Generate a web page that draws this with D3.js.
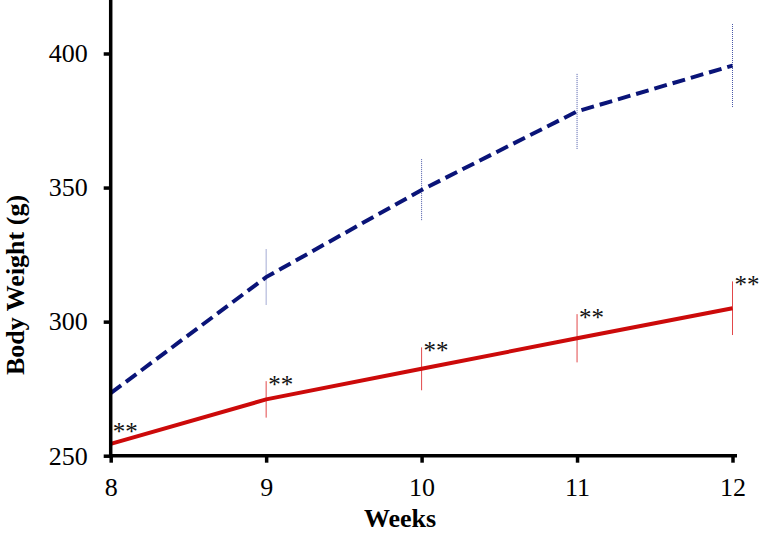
<!DOCTYPE html>
<html><head><meta charset="utf-8">
<script src="https://cdn.jsdelivr.net/npm/d3@7"></script>
<style>body{margin:0;background:#fff}svg{display:block}</style>
</head><body>
<script>
const weeks = [8, 9, 10, 11, 12];
const controlMean = [273.3, 316.6, 349.1, 378.4, 395.5];
const controlErr  = [8, 10.3, 11.5, 14, 15.5];
const treatedMean = [254.4, 271, 282.4, 293.8, 305];
const treatedErr  = [6, 6.8, 8, 9, 10];
const yTicks = [250, 300, 350, 400];
const xLabel = "Weeks";
const yLabel = "Body Weight (g)";
const sigMark = "**";

const W = 760, H = 535;
const svg = d3.select("body").append("svg").attr("width", W).attr("height", H);
const x = d3.scaleLinear().domain([8, 12]).range([110.7, 732.5]);
const y = d3.scaleLinear().domain([250, 400]).range([455.7, 53.5]);
const font = "'Liberation Serif', 'Times New Roman', serif";

// error bars
function errBars(mean, err, color, dash) {
  svg.append("g").selectAll("line").data(weeks).join("line")
    .attr("x1", (d) => x(d)).attr("x2", (d) => x(d))
    .attr("y1", (d, i) => y(mean[i] + err[i]))
    .attr("y2", (d, i) => y(mean[i] - err[i]))
    .attr("stroke", color).attr("stroke-width", 1)
    .attr("stroke-dasharray", dash);
}
errBars(controlMean, controlErr, "#4a58a8", "1,1");
errBars(treatedMean, treatedErr, "#e2484a", null);

const line = d3.line().x((d) => x(d[0])).y((d) => y(d[1]));
svg.append("path").datum(weeks.map((w, i) => [w, controlMean[i]]))
  .attr("d", line).attr("fill", "none").attr("stroke", "#0a1478")
  .attr("stroke-width", 4).attr("stroke-dasharray", "13,6");
svg.append("path").datum(weeks.map((w, i) => [w, treatedMean[i]]))
  .attr("d", line).attr("fill", "none").attr("stroke", "#cc0a0a")
  .attr("stroke-width", 4);

// significance marks
svg.append("g").selectAll("text").data(weeks).join("text")
  .attr("x", (d) => x(d) + 2)
  .attr("y", (d, i) => y(treatedMean[i] + treatedErr[i]) + 12)
  .attr("font-family", font).attr("font-size", 25).attr("fill", "#111")
  .text(sigMark);

// axes
const xAxis = svg.append("g").attr("transform", `translate(0,${y(250)})`)
  .call(d3.axisBottom(x).tickValues(weeks).tickFormat(d3.format("d")).tickSize(7).tickSizeOuter(0));
const yAxis = svg.append("g").attr("transform", `translate(${x(8)},0)`)
  .call(d3.axisLeft(y).tickValues(yTicks).tickSize(7).tickSizeOuter(0));
xAxis.select(".domain").attr("d", `M${x(8)-1.5},0H737`);
yAxis.select(".domain").attr("d", `M0,0V${y(250)+1.5}`);
[xAxis, yAxis].forEach((a) => {
  a.select(".domain").attr("stroke", "#000").attr("stroke-width", 3.5);
  a.selectAll(".tick line").attr("stroke", "#000").attr("stroke-width", 3.5);
  a.selectAll(".tick text").attr("font-family", font).attr("font-size", 26).attr("fill", "#000");
});
xAxis.selectAll(".tick text").attr("dy", "0.71em").attr("y", 22);
yAxis.selectAll(".tick text").attr("x", -23);

svg.append("text").attr("x", 400).attr("y", 527)
  .attr("text-anchor", "middle").attr("font-family", font)
  .attr("font-weight", "bold").attr("font-size", 26).text(xLabel);
svg.append("text").attr("transform", "translate(24,285) rotate(-90)")
  .attr("text-anchor", "middle").attr("font-family", font)
  .attr("font-weight", "bold").attr("font-size", 26).text(yLabel);
</script>
</body></html>
